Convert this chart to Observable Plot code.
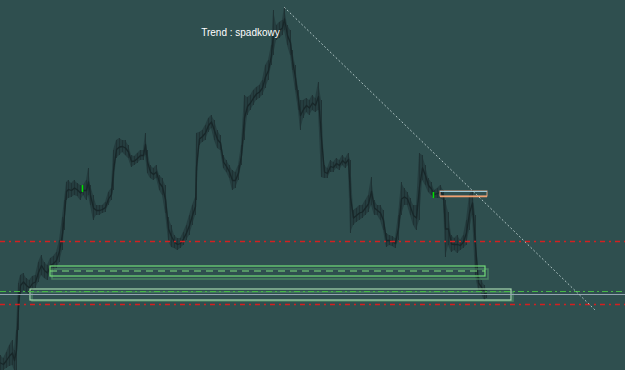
<!DOCTYPE html>
<html>
<head>
<meta charset="utf-8">
<script src="https://cdn.jsdelivr.net/npm/d3@7"></script>
<script src="https://cdn.jsdelivr.net/npm/@observablehq/plot@0.6"></script>
<style>
  html, body { margin: 0; padding: 0; background: #2f4f4f; overflow: hidden; }
  #chart svg { display: block; }
</style>
</head>
<body>
<div id="chart"></div>
<script>
// price series: [bar, high, low] (price in points)
const bars = [
  [0,15,0],[3,12,0],[6,18,2],[9,25,4],[12,30,5],[14,20,0],[16,40,0],[18,87,40],
  [20,95,75],[23,97,80],[26,92,78],[29,90,75],[32,94,80],[35,95,82],[38,108,88],
  [41,115,95],[44,108,92],[47,105,90],[50,112,98],[53,114,100],[56,118,102],
  [59,130,108],[62,153,120],[64,170,140],[66,188,170],[68,190,172],[71,187,173],
  [74,190,175],[77,187,174],[80,185,170],[83,185,175],[86,190,170],[88,202,175],
  [90,185,165],[93,175,150],[96,165,155],[99,165,155],[102,165,157],[105,168,158],
  [108,178,165],[111,182,170],[113,220,180],[116,230,212],[119,232,215],[122,230,218],
  [125,230,215],[128,225,212],[131,215,203],[134,214,205],[137,217,207],[140,220,210],
  [143,220,210],[145,237,215],[147,220,197],[150,205,192],[153,202,190],[156,205,192],
  [159,195,180],[162,192,175],[165,185,157],[168,153,130],[171,145,123],[174,135,122],
  [177,132,120],[180,132,122],[183,138,125],[186,145,130],[189,155,135],[192,165,145],
  [195,173,155],[196,237,170],[199,238,225],[202,240,228],[205,245,230],[208,252,238],
  [211,255,242],[214,250,230],[217,240,222],[220,235,220],[223,215,202],[226,210,198],
  [229,205,192],[232,200,180],[235,198,182],[238,205,190],[241,225,205],[244,275,230],
  [247,273,255],[250,275,260],[253,280,265],[256,283,270],[259,285,272],[262,290,275],
  [265,305,282],[268,310,290],[271,325,305],[273,360,315],[276,345,330],[279,348,332],
  [282,350,335],[284,363,340],[287,345,325],[290,340,315],[292,320,300],[295,305,280],
  [298,280,260],[300,270,240],[303,270,252],[306,272,258],[309,270,255],[312,275,260],
  [315,272,258],[318,288,260],[321,270,193],[324,205,192],[327,202,192],[330,210,198],
  [333,208,198],[336,212,202],[339,210,200],[342,215,205],[345,212,202],[348,217,205],
  [350,210,137],[353,160,145],[356,162,148],[359,165,150],[362,165,152],[365,170,155],
  [368,175,158],[371,193,165],[374,170,155],[377,165,155],[380,165,150],[383,160,140],
  [386,137,123],[389,135,125],[392,134,124],[395,132,122],[398,155,130],[401,188,155],
  [404,182,165],[407,178,165],[410,172,155],[413,165,145],[416,165,140],[419,217,150],
  [422,215,190],[425,205,185],[428,192,178],[431,188,175],[434,180,172],[437,182,172],
  [440,185,172],[443,180,170],[445,170,113],[448,158,125],[451,135,118],[454,132,120],
  [457,135,117],[460,130,120],[463,135,122],[466,150,125],[469,175,140],[472,180,155],
  [475,155,95],[478,95,80],[481,90,77],[484,85,70],[486,80,72]
].map(([bar, high, low]) => ({bar, high, low, mid: (high + low) / 2}));

// small highlighted (bullish) bars
const signalBars = [
  {bar: 82, high: 185, low: 178},
  {bar: 433, high: 178, low: 172}
];

// horizontal levels (price)
const redLevels = [129, 66];
const grayLevels = [76];
const greenLevels = [79];

// zones: start/end bar, top/bottom price
const zones = [
  {start: 50, end: 485, top: 104, bottom: 94, mid: 99.5, color: "#72dc78"},
  {start: 30, end: 511, top: 81, bottom: 70, mid: null, color: "#a6d8ae"}
];
const zoneShadows = [
  {start: 52, end: 488, top: 101, bottom: 91},
  {start: 32, end: 513, top: 78, bottom: 69}
];
const orangeZone = [{start: 440, end: 487, top: 179, bottom: 174}];

// trend line (bar, price)
const trend = [{bar: 284, price: 363}, {bar: 594, price: 61}];
const label = [{bar: 240, price: 338, text: "Trend : spadkowy"}];

const xDomain = [0, 625];
const yDomain = [0, 370];

const chart = Plot.plot({
  width: 625,
  height: 370,
  margin: 0,
  x: {domain: xDomain, axis: null},
  y: {domain: yDomain, axis: null},
  style: {background: "#2f4f4f", overflow: "hidden"},
  marks: [
    // price bars
    Plot.areaY(bars, {x: "bar", y1: "low", y2: "high", fill: "#253d3f"}),
    Plot.ruleX(bars, {x: "bar", y1: "low", y2: "high", stroke: "#1f3234", strokeWidth: 1}),
    Plot.line(bars, {x: "bar", y: "mid", stroke: "#182729", strokeWidth: 1.3}),
    Plot.ruleX(signalBars, {x: "bar", y1: "low", y2: "high", stroke: "#00e000", strokeWidth: 1.5}),
    // red dash-dot levels
    Plot.ruleY(redLevels, {stroke: "#d42020", strokeWidth: 1.3, strokeDasharray: "5,4,2,4"}),
    // zone shadows
    Plot.rect(zoneShadows, {x1: "start", x2: "end", y1: "bottom", y2: "top", fill: "none", stroke: "#5aa070", strokeWidth: 1.5, strokeOpacity: 0.6}),
    // zones
    Plot.rect(zones, {x1: "start", x2: "end", y1: "bottom", y2: "top", fill: "none", stroke: "color", strokeWidth: 1.2}),
    Plot.ruleY(zones.filter(d => d.mid != null), {y: "mid", x1: "start", x2: "end", stroke: "#7ee07e", strokeWidth: 1.2, strokeDasharray: "7,5"}),
    // gray and green full-width levels
    Plot.ruleY(grayLevels, {stroke: "#94a4b0", strokeWidth: 1.2}),
    Plot.ruleY(greenLevels, {stroke: "#46b846", strokeWidth: 1.2, strokeDasharray: "6,3,2,3"}),
    // orange zone
    Plot.rect(orangeZone, {x1: "start", x2: "end", y1: "bottom", y2: "top", fill: "none", stroke: "#d8a080", strokeWidth: 1}),
    Plot.ruleY(orangeZone, {y: "top", x1: "start", x2: "end", stroke: "#9ec8d8", strokeWidth: 1}),
    Plot.ruleY(orangeZone, {y: "bottom", x1: "start", x2: "end", stroke: "#f0a070", strokeWidth: 1.3}),
    // trend line
    Plot.line(trend, {x: "bar", y: "price", stroke: "#c8dada", strokeWidth: 1, strokeOpacity: 0.85, strokeDasharray: "1,3"}),
    Plot.text(label, {x: "bar", y: "price", text: "text", fill: "#ffffff", fontSize: 10, fontFamily: "Liberation Sans, Arial, sans-serif"})
  ]
});
document.getElementById("chart").appendChild(chart);
</script>
</body>
</html>
